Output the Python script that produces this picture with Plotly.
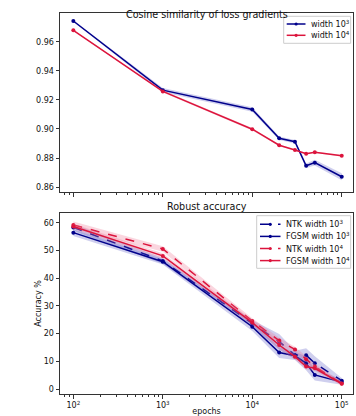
import plotly.graph_objects as go

# ---------------- data ----------------
epochs = [100, 1000, 10000, 20000, 30000, 40000, 50000, 100000]

cos_w1e3 = [0.9743, 0.9267, 0.9134, 0.8936, 0.8912, 0.8747, 0.8768, 0.8671]
cos_w1e3_err = [0.0005, 0.0014, 0.0015, 0.0012, 0.0012, 0.0016, 0.0020, 0.0024]
cos_w1e4 = [0.9679, 0.9258, 0.8998, 0.8888, 0.8855, 0.8830, 0.8839, 0.8816]
cos_w1e4_err = [0.0004, 0.0008, 0.0008, 0.0005, 0.0005, 0.0005, 0.0005, 0.0006]

ntk_w1e3 = [58.4, 46.3, 23.7, 17.1, 12.3, 12.2, 9.3, 3.0]
ntk_w1e3_err = [1.2, 1.0, 1.2, 2.8, 1.5, 2.5, 2.5, 1.0]
fgsm_w1e3 = [56.5, 46.0, 22.5, 13.2, 12.0, 9.3, 5.1, 2.5]
fgsm_w1e3_err = [1.2, 1.0, 1.5, 2.0, 1.5, 2.5, 2.0, 1.0]
ntk_w1e4 = [59.3, 50.6, 24.6, 17.5, 14.3, 10.8, 8.1, 2.0]
ntk_w1e4_err = [1.2, 1.0, 1.0, 1.0, 1.0, 1.0, 1.0, 0.6]
fgsm_w1e4 = [58.7, 48.1, 24.0, 15.9, 11.7, 8.1, 7.5, 1.9]
fgsm_w1e4_err = [1.0, 1.0, 1.0, 1.5, 1.0, 1.0, 1.0, 0.6]

xticks = [100, 1000, 10000, 100000]
xtick_text = ["10<sup>2</sup>", "10<sup>3</sup>", "10<sup>4</sup>", "10<sup>5</sup>"]
cos_yticks = [0.86, 0.88, 0.90, 0.92, 0.94, 0.96]
acc_yticks = [0, 10, 20, 30, 40, 50, 60]

cos_names = ["width 10<sup>3</sup>", "width 10<sup>4</sup>"]
acc_names = ["NTK width 10<sup>3</sup>", "FGSM width 10<sup>3</sup>",
             "NTK width 10<sup>4</sup>", "FGSM width 10<sup>4</sup>"]

BLUE = "#00008B"
RED = "#DC143C"
BLUE_FILL = "rgba(70,70,190,0.26)"
RED_FILL = "rgba(240,120,150,0.30)"
FONT = "DejaVu Sans"
AX = "#333"

W, H = 356, 416
fig = go.Figure()


def add_series(y, err, name, color, fill, dash, xa, ya):
    lo = [v - e for v, e in zip(y, err)]
    hi = [v + e for v, e in zip(y, err)]
    fig.add_trace(go.Scatter(x=epochs, y=lo, mode="lines", line=dict(width=0),
                             showlegend=False, hoverinfo="skip", xaxis=xa, yaxis=ya))
    fig.add_trace(go.Scatter(x=epochs, y=hi, mode="lines", line=dict(width=0),
                             fill="tonexty", fillcolor=fill, showlegend=False,
                             hoverinfo="skip", xaxis=xa, yaxis=ya))
    fig.add_trace(go.Scatter(x=epochs, y=y, mode="lines+markers", name=name,
                             line=dict(color=color, width=1.5, dash=dash),
                             marker=dict(size=4, color=color), showlegend=False,
                             xaxis=xa, yaxis=ya))


cos_series = [(cos_w1e3, cos_w1e3_err, BLUE, BLUE_FILL, "solid"),
              (cos_w1e4, cos_w1e4_err, RED, RED_FILL, "solid")]
acc_series = [(ntk_w1e3, ntk_w1e3_err, BLUE, BLUE_FILL, "dash"),
              (fgsm_w1e3, fgsm_w1e3_err, BLUE, BLUE_FILL, "solid"),
              (ntk_w1e4, ntk_w1e4_err, RED, RED_FILL, "dash"),
              (fgsm_w1e4, fgsm_w1e4_err, RED, RED_FILL, "solid")]

for (y, e, c, f, d), n in zip(cos_series, cos_names):
    add_series(y, e, n, c, f, d, "x", "y")
for (y, e, c, f, d), n in zip(acc_series, acc_names):
    add_series(y, e, n, c, f, d, "x2", "y2")

x_dom = [60 / W, 353 / W]
top_dom = [1 - 192 / H, 1 - 13 / H]
bot_dom = [1 - 394 / H, 1 - 213 / H]

minor_vals = [m * 10 ** k for k in range(1, 5) for m in range(2, 10)]

axis_common = dict(showline=True, linecolor=AX, linewidth=1, mirror=True,
                   ticks="outside", ticklen=3.5, tickcolor=AX, showgrid=False,
                   zeroline=False, automargin=False,
                   tickfont=dict(size=8, color="#111", family=FONT))

xcommon = dict(axis_common, type="log", range=[1.851, 5.126], domain=x_dom,
               tickvals=xticks,
               minor=dict(ticks="outside", ticklen=2, tickcolor=AX, showgrid=False,
                          tickvals=minor_vals))

# ---------- manual legends (matplotlib-like compact boxes) ----------
shapes = []
annotations = []


def px(x):
    return x / W


def py(y):
    return 1 - y / H


def legend_box(x0, x1, y0, y1, entries, y_first, step, line_x0, line_x1, text_x):
    shapes.append(dict(type="rect", xref="paper", yref="paper",
                       x0=px(x0), x1=px(x1), y0=py(y0), y1=py(y1),
                       line=dict(color="#cccccc", width=1),
                       fillcolor="rgba(255,255,255,0.85)", layer="above"))
    for i, (name, color, dash) in enumerate(entries):
        yy = y_first + i * step
        shapes.append(dict(type="line", xref="paper", yref="paper",
                           x0=px(line_x0), x1=px(line_x1), y0=py(yy), y1=py(yy),
                           line=dict(color=color, width=1.5,
                                     dash="dash" if dash == "dash" else "solid"),
                           layer="above"))
        xc = (line_x0 + line_x1) / 2
        shapes.append(dict(type="circle", xref="paper", yref="paper",
                           x0=px(xc - 1.6), x1=px(xc + 1.6),
                           y0=py(yy - 1.6), y1=py(yy + 1.6),
                           line=dict(color=color, width=0), fillcolor=color,
                           layer="above"))
        annotations.append(dict(text=name, x=px(text_x), y=py(yy), xref="paper",
                                yref="paper", xanchor="left", yanchor="middle",
                                showarrow=False,
                                font=dict(size=8, family=FONT, color="#111")))


legend_box(283.7, 350.7, 16.3, 43.3,
           [(n, s[2], s[4]) for n, s in zip(cos_names, cos_series)],
           24.0, 11.3, 286.7, 305.5, 308.5)
legend_box(256.7, 350.7, 215.7, 268.3,
           [(n, s[2], s[4]) for n, s in zip(acc_names, acc_series)],
           224.3, 12.1, 260.0, 280.5, 283.7)

annotations += [
    dict(text="Cosine similarity of loss gradients", x=(x_dom[0] + x_dom[1]) / 2,
         y=py(6.5), xref="paper", yref="paper", showarrow=False,
         font=dict(size=9.6, family=FONT, color="#111")),
    dict(text="Robust accuracy", x=(x_dom[0] + x_dom[1]) / 2,
         y=py(206.5), xref="paper", yref="paper", showarrow=False,
         font=dict(size=9.6, family=FONT, color="#111")),
]

fig.update_layout(
    width=W, height=H,
    margin=dict(l=0, r=0, t=0, b=0),
    paper_bgcolor="white", plot_bgcolor="white",
    font=dict(family=FONT, size=8, color="#111"),
    showlegend=False,
    xaxis=dict(xcommon, anchor="y", showticklabels=False),
    yaxis=dict(axis_common, domain=top_dom, anchor="x", range=[0.8566, 0.9798],
               tickvals=cos_yticks, ticktext=["%.2f" % v for v in cos_yticks]),
    xaxis2=dict(xcommon, anchor="y2", ticktext=xtick_text,
                title=dict(text="epochs", font=dict(size=8, family=FONT), standoff=2)),
    yaxis2=dict(axis_common, domain=bot_dom, anchor="x2", range=[-1.8, 63.6],
                tickvals=acc_yticks,
                title=dict(text="Accuracy %", font=dict(size=8, family=FONT), standoff=0)),
    shapes=shapes,
    annotations=annotations,
)

fig.write_html("out.html", config={"displayModeBar": False},
               post_script="document.body.style.margin='0px';"
               "document.body.style.overflow='hidden';")
